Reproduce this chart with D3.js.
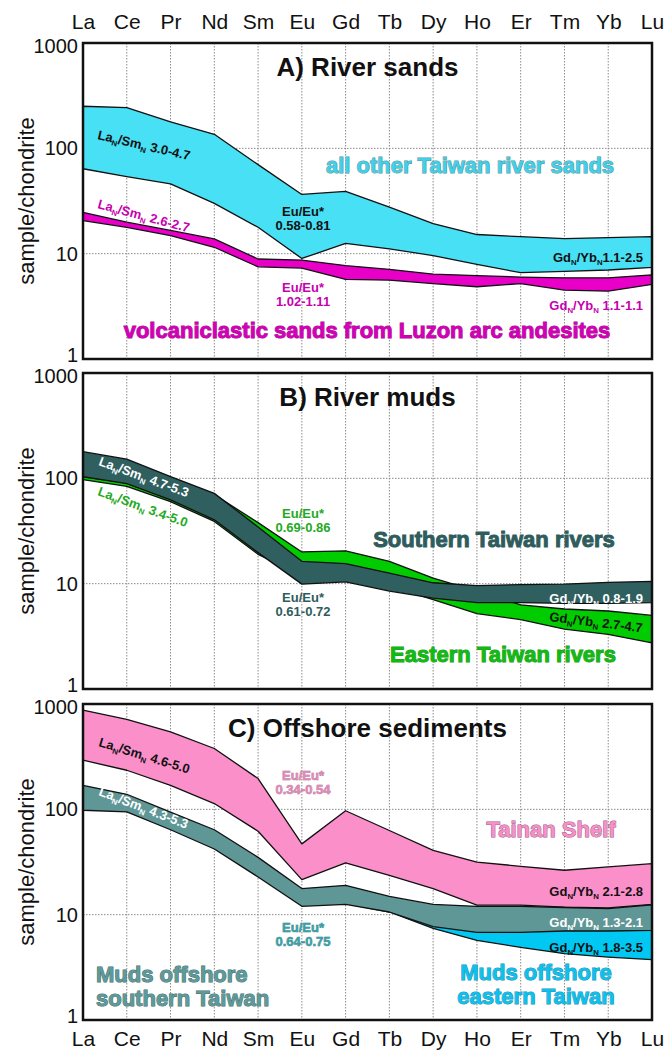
<!DOCTYPE html>
<html><head><meta charset="utf-8">
<script src="https://cdn.jsdelivr.net/npm/d3@7"></script>
<style>
body{margin:0;background:#fff;}
svg{display:block;font-family:"Liberation Sans",Arial,sans-serif;}
</style></head>
<body><svg id="chart" width="667" height="1052"></svg>
<script>
const elements = ["La","Ce","Pr","Nd","Sm","Eu","Gd","Tb","Dy","Ho","Er","Tm","Yb","Lu"];
const yTicks = [1,10,100,1000];

// Panel A: River sands
const sandsOtherUpper = [251,244,178,136,70,36.5,39,27.6,19.3,15.2,14.5,13.9,14.2,14.5];
const sandsOtherLower = [64,54,46,30,17.8,9.0,12.5,11.1,9.6,7.9,6.6,6.8,7.0,7.4];
const sandsLuzonUpper = [24.7,19.9,16.6,13.8,8.9,8.7,7.7,7.1,6.4,6.2,6.0,5.9,5.9,6.3];
const sandsLuzonLower = [20.6,17.8,14.8,11.5,7.5,7.3,5.7,5.6,5.2,4.85,5.2,4.5,4.4,5.1];

// Panel B: River muds
const mudsSouthUpper = [179,152,104,72,34.5,16.3,15.5,12.6,10.2,9.6,9.8,9.9,10.3,10.5];
const mudsSouthLower = [104,89,62.5,40.4,19.7,9.9,10.4,8.5,7.3,6.6,6.6,6.5,6.5,6.6];
const mudsEastUpper = [103,90,72,70,38,20,20.5,16.3,11.3,8.5,6.3,5.75,5.5,5.0];
const mudsEastLower = [97,84,60,39,19,12,12,9.5,7.05,5.2,4.56,3.7,3.3,2.74];

// Panel C: Offshore sediments
const shelfUpper = [875,714,544,378,196,47,97,63,40.8,31.6,28.8,26.4,28.4,30.5];
const shelfLower = [293,235,169,113.5,62,21.5,31,23.6,17.7,12.3,12.3,11.8,11.6,12.5];
const offSouthUpper = [169,139,94,64,35,17.7,19,14.9,12.5,12,12,11.7,11.4,12.4];
const offSouthLower = [98,94.5,64,42,22.8,12,12.5,10.6,7.7,6.8,6.8,7.0,7.0,7.1];
const offEastUpper = [120,110,75,50,28,14,15,12,9,8,7.8,7.6,7.4,7.3];
const offEastLower = [100,96,66,43,23.5,12.3,12.8,10.6,7.4,5.7,4.9,4.26,3.96,3.74];

const svg = d3.select("#chart");
const left = 83, right = 652, ph = 316;
const tops = [43, 373, 704];
const x = d3.scalePoint().domain(elements).range([left, right]);

function sub(t, parts, size){
  let last = false;
  parts.forEach(([s, isSub]) => {
    if (isSub) t.append("tspan").attr("dy", 3).attr("font-size", size*0.6).text(s);
    else t.append("tspan").attr("dy", last ? -3 : 0).text(s);
    last = isSub;
  });
}

function ratioLabel(g, a, b, rng, px, py, angle, color, opts={}){
  const size = opts.size || 13;
  const t = g.append("text")
    .attr("transform", `translate(${px},${py}) rotate(${angle})`)
    .attr("font-size", size).attr("font-weight", "bold")
    .attr("fill", color).attr("text-anchor", opts.anchor || "start");
  sub(t, [[a,false],["N",true],["/"+b,false],["N",true],[rng,false]], size);
  return t;
}

function euLabel(g, px, py, rng, color, stroke){
  const t = g.append("text").attr("text-anchor","middle").attr("font-size",13)
    .attr("font-weight","bold").attr("fill",color);
  if (stroke) t.attr("stroke", stroke).attr("stroke-width",0.5).attr("paint-order","stroke");
  t.append("tspan").attr("x",px).attr("y",py).text("Eu/Eu*");
  t.append("tspan").attr("x",px).attr("y",py+14).text(rng);
}

function bigLabel(g, lines, px, py, color, stroke, anchor){
  const t = g.append("text").attr("text-anchor", anchor||"middle").attr("font-size",22)
    .attr("font-weight","bold").attr("fill",color)
    .attr("stroke",stroke).attr("stroke-width",1).attr("paint-order","stroke");
  lines.forEach((s,i)=> t.append("tspan").attr("x",px).attr("y",py+i*24).text(s));
}

function panel(idx, title, bands){
  const top = tops[idx];
  const y = d3.scaleLog().domain([1,1000]).range([top+ph, top]);
  const g = svg.append("g");
  // grid
  g.selectAll("line.v").data(elements.slice(1,-1)).join("line")
    .attr("x1", d=>x(d)).attr("x2", d=>x(d)).attr("y1", top).attr("y2", top+ph)
    .attr("stroke","#8a8a8a").attr("stroke-width",1).attr("stroke-dasharray","1.5,1.5");
  g.selectAll("line.h").data([10,100]).join("line")
    .attr("x1", left).attr("x2", right).attr("y1", d=>y(d)).attr("y2", d=>y(d))
    .attr("stroke","#8a8a8a").attr("stroke-width",1).attr("stroke-dasharray","1.5,1.5");
  // bands
  bands.forEach(b => {
    const area = d3.area().x((d,i)=>x(elements[i])).y0((d,i)=>y(b.lower[i])).y1(d=>y(d));
    g.append("path").datum(b.upper).attr("d", area)
      .attr("fill", b.color).attr("stroke","#111").attr("stroke-width",1.3).attr("stroke-linejoin","round");
  });
  // frame
  g.append("rect").attr("x",left).attr("y",top).attr("width",right-left).attr("height",ph)
    .attr("fill","none").attr("stroke","#111").attr("stroke-width",2.5);
  // y axis
  const ax = d3.axisLeft(y).tickValues(yTicks).tickFormat(d3.format("d")).tickSize(0).tickPadding(5);
  const ag = g.append("g").attr("transform",`translate(${left},0)`).call(ax);
  ag.select(".domain").remove();
  ag.selectAll("text").attr("font-size",20).attr("fill","#111")
    .attr("font-family","Liberation Sans, Arial, sans-serif")
    .attr("dy", d => d === 1 ? "0.12em" : d === 1000 ? "0.45em" : "0.32em");
  g.append("text").attr("transform",`translate(26,${top+ph/2}) rotate(-90)`)
    .attr("text-anchor","middle").attr("dominant-baseline","central")
    .attr("font-size",22).attr("fill","#111").text("sample/chondrite");
  // title
  g.append("text").attr("x",(left+right)/2).attr("y",top+33).attr("text-anchor","middle")
    .attr("font-size",26).attr("font-weight","bold").attr("fill","#111").text(title);
  return {g, y};
}

// Element axes top and bottom
const topAx = d3.axisTop(x).tickSize(0).tickPadding(0);
const ta = svg.append("g").attr("transform","translate(0,29)").call(topAx);
ta.select(".domain").remove();
ta.selectAll("text").attr("font-size",21).attr("fill","#111").attr("font-family","Liberation Sans, Arial, sans-serif").attr("dy",0);
const botAx = d3.axisBottom(x).tickSize(0).tickPadding(0);
const ba = svg.append("g").attr("transform","translate(0,1046)").call(botAx);
ba.select(".domain").remove();
ba.selectAll("text").attr("font-size",21).attr("fill","#111").attr("font-family","Liberation Sans, Arial, sans-serif").attr("dy",0);

// Panel A
const A = panel(0, "A) River sands", [
  {upper: sandsOtherUpper, lower: sandsOtherLower, color: "#48e0f4"},
  {upper: sandsLuzonUpper, lower: sandsLuzonLower, color: "#e800c8"}
]);
ratioLabel(A.g, "La","Sm"," 3.0-4.7", 97, 139, 13, "#111");
ratioLabel(A.g, "La","Sm"," 2.6-2.7", 97, 208, 15, "#c800b0");
euLabel(A.g, 303, 216, "0.58-0.81", "#111");
euLabel(A.g, 303, 292, "1.02-1.11", "#c800b0");
ratioLabel(A.g, "Gd","Yb","1.1-2.5", 643, 262, 0, "#111", {anchor:"end"});
ratioLabel(A.g, "Gd","Yb"," 1.1-1.1", 643, 310, 0, "#c800b0", {anchor:"end"});
bigLabel(A.g, ["all other Taiwan river sands"], 470, 173, "#40d0e8", "#5a8f9a");
bigLabel(A.g, ["volcaniclastic sands from Luzon arc andesites"], 367, 338, "#d400b8", "#a0108c");

// Panel B
const B = panel(1, "B) River muds", [
  {upper: mudsEastUpper, lower: mudsEastLower, color: "#00cc00"},
  {upper: mudsSouthUpper, lower: mudsSouthLower, color: "#2f5f5f"}
]);
ratioLabel(B.g, "La","Sm"," 4.7-5.3", 98, 465, 20, "#fff");
ratioLabel(B.g, "La","Sm"," 3.4-5.0", 97, 495, 20, "#22aa22");
euLabel(B.g, 303, 518, "0.69-0.86", "#1faa1f");
euLabel(B.g, 303, 602, "0.61-0.72", "#2f5c5c");
ratioLabel(B.g, "Gd","Yb"," 0.8-1.9", 643, 603, 0, "#fff", {anchor:"end"});
ratioLabel(B.g, "Gd","Yb"," 2.7-4.7", 549, 621, 7, "#111");
bigLabel(B.g, ["Southern Taiwan rivers"], 494, 547, "#2f5c5c", "#2f5c5c");
bigLabel(B.g, ["Eastern Taiwan rivers"], 503, 662, "#11bb11", "#229922");

// Panel C
const C = panel(2, "C) Offshore sediments", [
  {upper: shelfUpper, lower: shelfLower, color: "#fb8fca"},
  {upper: offEastUpper, lower: offEastLower, color: "#00c8f2"},
  {upper: offSouthUpper, lower: offSouthLower, color: "#5f9797"}
]);
ratioLabel(C.g, "La","Sm"," 4.6-5.0", 98, 746, 17, "#111");
ratioLabel(C.g, "La","Sm"," 4.3-5.3", 98, 795, 21, "#fff");
euLabel(C.g, 303, 780, "0.34-0.54", "#e08ab8", "#9a6080");
euLabel(C.g, 303, 932, "0.64-0.75", "#3aa0a8", "#2a7078");
ratioLabel(C.g, "Gd","Yb"," 2.1-2.8", 643, 896, 0, "#111", {anchor:"end"});
ratioLabel(C.g, "Gd","Yb"," 1.3-2.1", 643, 927, 0, "#fff", {anchor:"end"});
ratioLabel(C.g, "Gd","Yb"," 1.8-3.5", 643, 952, 0, "#111", {anchor:"end"});
bigLabel(C.g, ["Tainan Shelf"], 551, 837, "#f590c8", "#a05880");
bigLabel(C.g, ["Muds offshore","eastern Taiwan"], 536, 980, "#10c0ec", "#1890b0");
bigLabel(C.g, ["Muds offshore","southern Taiwan"], 96, 982, "#5f9a9a", "#3d6a6a", "start");
</script></body></html>
